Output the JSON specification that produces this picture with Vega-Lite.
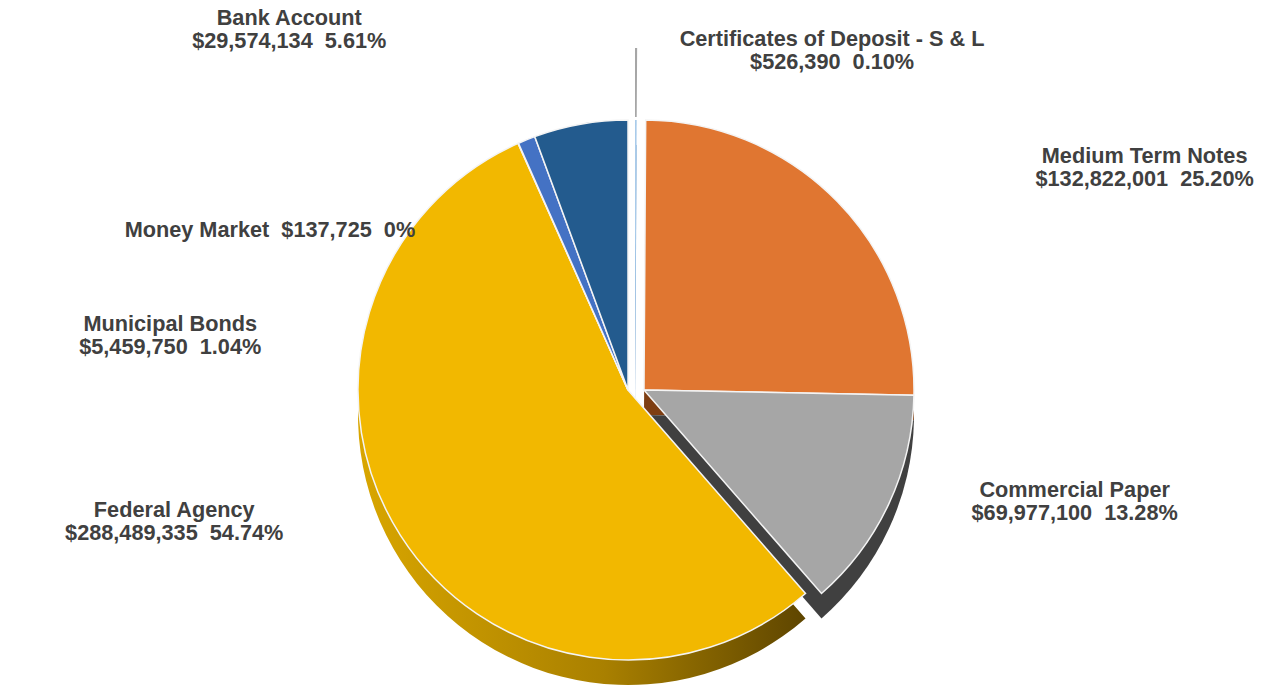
{
  "$schema": "https://vega.github.io/schema/vega-lite/v6.json",
  "width": 1256,
  "height": 596,
  "autosize": {"type": "none"},
  "padding": {"left": 0, "top": 92, "right": 6, "bottom": 0},
  "background": "white",
  "config": {
    "view": {"stroke": null},
    "text": {"font": "Liberation Sans", "fontWeight": "bold", "fontSize": 21.7, "fill": "#404040", "lineHeight": 23, "lineBreak": "\n", "align": "center", "baseline": "middle"}
  },
  "data": {
    "values": [
      {"cat": "Certificates of Deposit - S & L", "ord": 1, "value": 526390, "label": "Certificates of Deposit - S & L\n$526,390\u00a0 0.10%"},
      {"cat": "Medium Term Notes", "ord": 2, "value": 132822001, "label": "Medium Term Notes\n$132,822,001\u00a0 25.20%"},
      {"cat": "Commercial Paper", "ord": 3, "value": 69977100, "label": "Commercial Paper\n$69,977,100\u00a0 13.28%"},
      {"cat": "Federal Agency", "ord": 4, "value": 288489335, "label": "Federal Agency\n$288,489,335\u00a0 54.74%"},
      {"cat": "Money Market", "ord": 5, "value": 137725, "label": "Money Market\u00a0 $137,725\u00a0 0%"},
      {"cat": "Municipal Bonds", "ord": 6, "value": 5459750, "label": "Municipal Bonds\n$5,459,750\u00a0 1.04%"},
      {"cat": "Bank Account", "ord": 7, "value": 29574134, "label": "Bank Account\n$29,574,134\u00a0 5.61%"}
    ]
  },
  "encoding": {
    "theta": {"field": "value", "type": "quantitative", "stack": true},
    "order": {"field": "ord", "type": "quantitative"}
  },
  "layer": [
    {
      "mark": {"type": "arc", "radius": 270, "yOffset": 25, "fill": {"gradient": "linear", "x1": 0, "y1": 0, "x2": 1, "y2": 0, "stops": [{"offset": 0, "color": "#D9A600"}, {"offset": 0.55, "color": "#A98000"}, {"offset": 1, "color": "#5E4500"}]}},
      "encoding": {"opacity": {"condition": {"test": "datum.cat === 'Federal Agency'", "value": 1}, "value": 0}}
    },
    {
      "mark": {"type": "arc", "radius": 270, "yOffset": 25},
      "encoding": {
        "color": {"condition": [{"test": "datum.cat === 'Bank Account'", "value": "#173E63"}, {"test": "datum.cat === 'Municipal Bonds'", "value": "#1B325C"}], "value": "#1B325C"},
        "opacity": {"condition": {"test": "datum.cat === 'Bank Account' || datum.cat === 'Municipal Bonds' || datum.cat === 'Money Market'", "value": 1}, "value": 0}
      }
    },
    {
      "mark": {"type": "arc", "radius": 270, "yOffset": 25, "xOffset": 7, "fill": "#7FA7D0"},
      "encoding": {"opacity": {"condition": {"test": "datum.cat === 'Certificates of Deposit - S & L'", "value": 1}, "value": 0}}
    },
    {
      "mark": {"type": "arc", "radius": 270, "yOffset": 25, "xOffset": 16},
      "encoding": {
        "color": {"condition": [{"test": "datum.cat === 'Medium Term Notes'", "value": "#7E3E12"}], "value": "#404040"},
        "opacity": {"condition": {"test": "datum.cat === 'Medium Term Notes' || datum.cat === 'Commercial Paper'", "value": 1}, "value": 0}
      }
    },
    {
      "mark": {"type": "arc", "radius": 270, "stroke": "#F4F4F4", "strokeWidth": 1.5},
      "encoding": {
        "color": {"condition": [{"test": "datum.cat === 'Bank Account'", "value": "#235B8E"}, {"test": "datum.cat === 'Municipal Bonds'", "value": "#4472C4"}, {"test": "datum.cat === 'Money Market'", "value": "#1F3864"}], "value": "#F2B800"},
        "opacity": {"condition": {"test": "datum.cat === 'Bank Account' || datum.cat === 'Municipal Bonds' || datum.cat === 'Money Market' || datum.cat === 'Federal Agency'", "value": 1}, "value": 0}
      }
    },
    {
      "mark": {"type": "arc", "radius": 270, "xOffset": 7, "fill": "#A9CBEA"},
      "encoding": {"opacity": {"condition": {"test": "datum.cat === 'Certificates of Deposit - S & L'", "value": 1}, "value": 0}}
    },
    {
      "mark": {"type": "arc", "radius": 342, "radius2": 273, "xOffset": 7, "fill": "#A6A6A6"},
      "encoding": {"opacity": {"condition": {"test": "datum.cat === 'Certificates of Deposit - S & L'", "value": 1}, "value": 0}}
    },
    {
      "mark": {"type": "arc", "radius": 270, "xOffset": 16, "stroke": "#F4F4F4", "strokeWidth": 1.5},
      "encoding": {
        "color": {"condition": [{"test": "datum.cat === 'Medium Term Notes'", "value": "#E07631"}], "value": "#A6A6A6"},
        "opacity": {"condition": {"test": "datum.cat === 'Medium Term Notes' || datum.cat === 'Commercial Paper'", "value": 1}, "value": 0}
      }
    },
    {
      "mark": {"type": "text", "radius": 345, "dx": 203, "dy": -6},
      "encoding": {"text": {"condition": {"test": "datum.cat === 'Certificates of Deposit - S & L'", "field": "label"}, "value": ""}}
    },
    {
      "mark": {"type": "text", "radius": 526, "dx": 140, "dy": 133},
      "encoding": {"text": {"condition": {"test": "datum.cat === 'Medium Term Notes'", "field": "label"}, "value": ""}}
    },
    {
      "mark": {"type": "text", "radius": 452, "dx": 37, "dy": -91},
      "encoding": {"text": {"condition": {"test": "datum.cat === 'Commercial Paper'", "field": "label"}, "value": ""}}
    },
    {
      "mark": {"type": "text", "radius": 453, "dx": -72, "dy": -124},
      "encoding": {"text": {"condition": {"test": "datum.cat === 'Federal Agency'", "field": "label"}, "value": ""}}
    },
    {
      "mark": {"type": "text", "radius": 293, "dx": -239, "dy": 108},
      "encoding": {"text": {"condition": {"test": "datum.cat === 'Money Market'", "field": "label"}, "value": ""}}
    },
    {
      "mark": {"type": "text", "radius": 223, "dx": -374, "dy": 141},
      "encoding": {"text": {"condition": {"test": "datum.cat === 'Municipal Bonds'", "field": "label"}, "value": ""}}
    },
    {
      "mark": {"type": "text", "radius": 415, "dx": -266, "dy": 37},
      "encoding": {"text": {"condition": {"test": "datum.cat === 'Bank Account'", "field": "label"}, "value": ""}}
    }
  ]
}
